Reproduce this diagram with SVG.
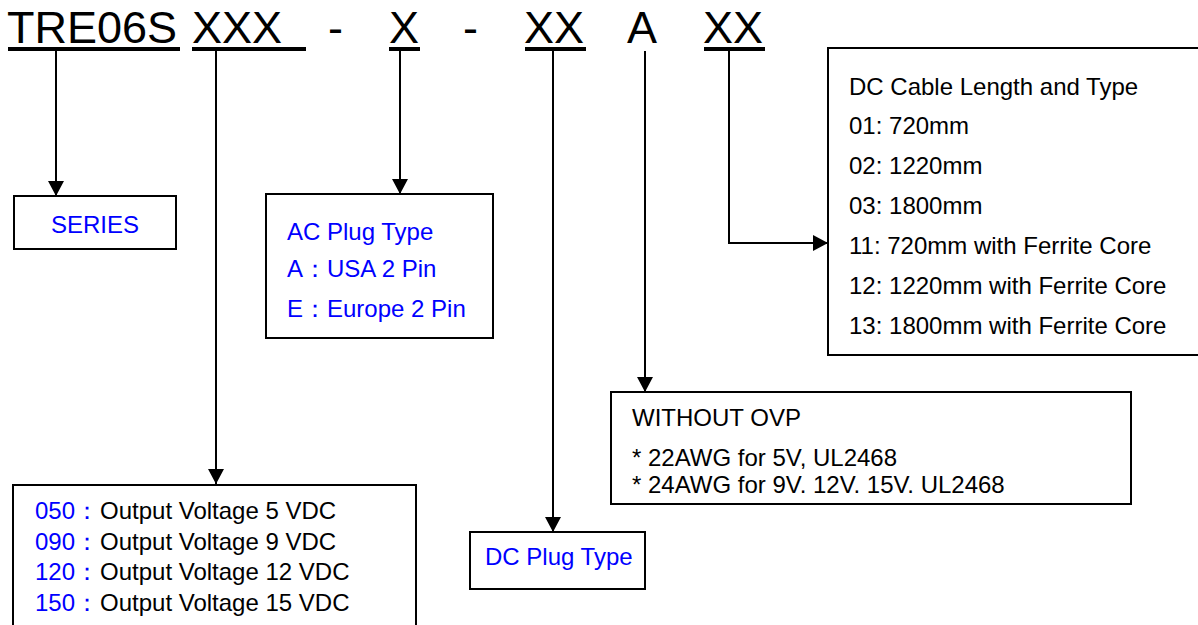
<svg xmlns="http://www.w3.org/2000/svg" width="1198" height="625" viewBox="0 0 1198 625">
<style>
text{font-family:"Liberation Sans",Arial,sans-serif;font-size:24px;fill:#000}
.t{font-size:45px}
.b{fill:#0000ff}
.box{fill:#fff;stroke:#000;stroke-width:2}
.ul{fill:#000}
.c{fill:none;stroke:#000;stroke-width:2}
</style>
<defs>
<marker id="ah" viewBox="0 0 15 16" refX="15" refY="8" markerWidth="15" markerHeight="16" markerUnits="userSpaceOnUse" orient="auto">
<path d="M0,0 L15,8 L0,16 z" fill="#000"/>
</marker>
</defs>
<rect width="1198" height="625" fill="#fff"/>
<g id="title">
<text class="t" x="7" y="43">TRE06S</text>
<text class="t" x="192" y="43">XXX</text>
<text class="t" x="328" y="43">-</text>
<text class="t" x="389" y="43">X</text>
<text class="t" x="463" y="43">-</text>
<text class="t" x="524" y="43">XX</text>
<text class="t" x="627" y="43">A</text>
<text class="t" x="703" y="43">XX</text>
<rect class="ul" x="8" y="47" width="172" height="4"/>
<rect class="ul" x="192" y="47" width="114" height="4"/>
<rect class="ul" x="389" y="47" width="31" height="4"/>
<rect class="ul" x="525" y="47" width="61" height="4"/>
<rect class="ul" x="704" y="47" width="61" height="4"/>
</g>
<g id="connectors">
<path class="c" d="M56,51 V196" marker-end="url(#ah)"/>
<path class="c" d="M216,51 V484" marker-end="url(#ah)"/>
<path class="c" d="M400,51 V194" marker-end="url(#ah)"/>
<path class="c" d="M553,51 V532" marker-end="url(#ah)"/>
<path class="c" d="M645,51 V392" marker-end="url(#ah)"/>
<path class="c" d="M729,51 V243 H828" marker-end="url(#ah)"/>
</g>
<g id="series">
<rect class="box" x="14" y="196" width="162" height="53"/>
<text class="b" x="95" y="233" text-anchor="middle">SERIES</text>
</g>
<g id="ac-plug">
<rect class="box" x="266" y="194" width="227" height="144"/>
<text class="b" x="287" y="240">AC Plug Type</text>
<text class="b" x="287" y="277">A：USA 2 Pin</text>
<text class="b" x="287" y="317">E：Europe 2 Pin</text>
</g>
<g id="voltage">
<rect class="box" x="13" y="485" width="403" height="160"/>
<text x="35" y="519"><tspan class="b">050：</tspan><tspan x="100">Output Voltage 5 VDC</tspan></text>
<text x="35" y="549.5"><tspan class="b">090：</tspan><tspan x="100">Output Voltage 9 VDC</tspan></text>
<text x="35" y="580"><tspan class="b">120：</tspan><tspan x="100">Output Voltage 12 VDC</tspan></text>
<text x="35" y="610.5"><tspan class="b">150：</tspan><tspan x="100">Output Voltage 15 VDC</tspan></text>
</g>
<g id="dc-plug">
<rect class="box" x="470" y="532" width="175" height="57"/>
<text class="b" x="485" y="565">DC Plug Type</text>
</g>
<g id="ovp">
<rect class="box" x="611" y="392" width="520" height="112"/>
<text x="632" y="426">WITHOUT OVP</text>
<text x="632" y="466">* 22AWG for 5V, UL2468</text>
<text x="632" y="493">* 24AWG for 9V. 12V. 15V. UL2468</text>
</g>
<g id="dc-cable">
<rect class="box" x="828" y="48" width="380" height="307"/>
<text x="849" y="95">DC Cable Length and Type</text>
<text x="849" y="134">01: 720mm</text>
<text x="849" y="174">02: 1220mm</text>
<text x="849" y="214">03: 1800mm</text>
<text x="849" y="254">11: 720mm with Ferrite Core</text>
<text x="849" y="294">12: 1220mm with Ferrite Core</text>
<text x="849" y="334">13: 1800mm with Ferrite Core</text>
</g>
</svg>
